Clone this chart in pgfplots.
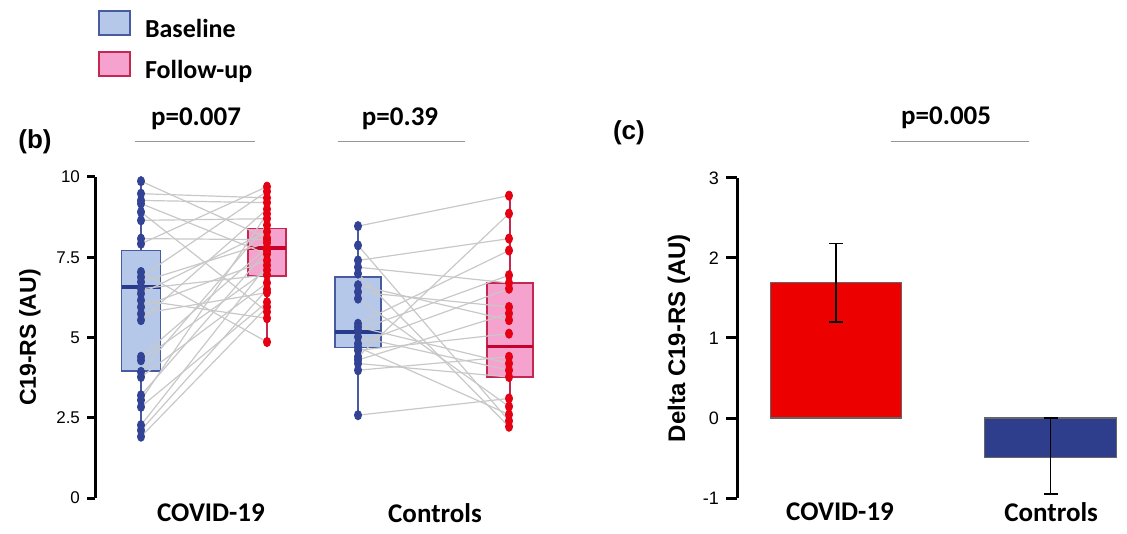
\documentclass[border=0pt]{standalone}
\usepackage{pgfplots}
\pgfplotsset{compat=1.18}
\usepackage{pgfplotstable}
\usepackage{fontspec}
\setmainfont{Carlito}
\newfontfamily\arial{Liberation Sans}

\definecolor{bfill}{RGB}{182,200,234}
\definecolor{bedge}{RGB}{72,90,160}
\definecolor{bmed}{RGB}{40,58,140}
\definecolor{bdot}{RGB}{50,66,148}
\definecolor{pfill}{RGB}{246,162,206}
\definecolor{pedge}{RGB}{196,40,80}
\definecolor{pmed}{RGB}{200,0,45}
\definecolor{pdot}{RGB}{230,0,20}
\definecolor{lgray}{RGB}{200,200,200}
\definecolor{sgray}{RGB}{150,150,150}
\definecolor{barred}{RGB}{237,0,0}
\definecolor{barblue}{RGB}{46,62,140}

\pgfplotstableread{
b f
9.87 8.10
9.48 9.35
9.27 9.20
9.17 7.60
8.91 5.80
8.65 8.70
8.08 8.05
7.92 9.70
7.04 4.86
6.88 9.55
6.73 7.95
6.52 6.95
6.37 8.30
6.16 5.60
5.95 7.40
5.74 6.40
5.54 9.00
4.40 7.80
4.29 7.10
3.93 8.50
3.77 6.70
3.20 7.70
3.05 8.85
2.84 6.10
2.27 7.25
2.11 6.50
1.91 5.95
}\covid

\pgfplotstableread{
b f
8.47 9.42
7.87 2.40
7.40 8.08
7.19 6.70
6.99 2.22
6.63 5.54
6.42 5.95
6.21 2.85
5.43 7.71
5.33 4.19
5.23 6.94
5.02 3.98
4.81 6.52
4.70 2.60
4.60 5.12
4.40 8.86
4.30 5.75
4.19 3.77
3.98 4.40
2.58 3.10
}\ctrl

\begin{document}
\begin{tikzpicture}
\useasboundingbox (0,0) rectangle (563.5pt,267pt);
% ---------------- panel (b)
\begin{axis}[
  at={(47.5pt,18pt)}, anchor=south west, scale only axis,
  width=232.5pt, height=160.5pt,
  xmin=95, xmax=560, ymin=0, ymax=10, clip=false,
  axis lines*=left,
  x axis line style={draw=none},
  y axis line style={line width=1.5pt, black},
  tick align=outside, major tick length=4pt,
  ytick={0,2.5,5,7.5,10}, yticklabels={0,2.5,5,7.5,10},
  y tick style={line width=1.5pt, black},
  yticklabel style={font=\arial\fontsize{8.5}{9}\selectfont},
  xtick={211,435}, xticklabels={COVID-19,Controls},
  x tick style={draw=none},
  xticklabel style={font=\bfseries\fontsize{13.5}{14}\selectfont, anchor=center, yshift=-3.5pt},
  ylabel={C19-RS (AU)},
  every axis y label/.style={at={(axis description cs:0,0.5)}, xshift=-32.5pt, rotate=90, anchor=center, font=\arial\bfseries\fontsize{11.5}{12}\selectfont},
  legend image code/.code={\draw[#1] (0pt,-2pt) rectangle (15.5pt,10pt);},
  legend style={at={(axis description cs:0.0065,1.52)}, anchor=north west, draw=none, fill=none, inner sep=0pt,
    font=\bfseries\fontsize{13}{14}\selectfont, row sep=4pt,
    nodes={inner sep=0pt, text height=9pt, text depth=3pt},
    /tikz/every odd column/.style={column sep=7pt}},
  legend cell align=left,
]
\addlegendimage{fill=bfill, draw=bedge, line width=0.8pt}
\addlegendentry{Baseline}
\addlegendimage{fill=pfill, draw=pedge, line width=0.8pt}
\addlegendentry{Follow-up}

% whiskers
\addplot[bedge, line width=1pt] coordinates {(141,1.91) (141,9.87)};
\addplot[pedge, line width=1pt] coordinates {(267,4.86) (267,9.70)};
\addplot[bedge, line width=1pt] coordinates {(358,2.58) (358,8.47)};
\addplot[pedge, line width=1pt] coordinates {(510,2.22) (510,9.42)};
% boxes (Q1 to Q3)
\addplot[draw=bedge, fill=bfill, line width=0.8pt] coordinates {(121.5,3.96) (160.5,3.96) (160.5,7.71) (121.5,7.71)} -- cycle;
\addplot[draw=pedge, fill=pfill, line width=0.8pt] coordinates {(248,6.92) (286,6.92) (286,8.39) (248,8.39)} -- cycle;
\addplot[draw=bedge, fill=bfill, line width=0.8pt] coordinates {(335,4.69) (381,4.69) (381,6.88) (335,6.88)} -- cycle;
\addplot[draw=pedge, fill=pfill, line width=0.8pt] coordinates {(487,3.77) (533,3.77) (533,6.70) (487,6.70)} -- cycle;
% medians
\addplot[bmed, line width=1.6pt] coordinates {(121.5,6.57) (160.5,6.57)};
\addplot[pmed, line width=1.6pt] coordinates {(248,7.79) (286,7.79)};
\addplot[bmed, line width=1.6pt] coordinates {(335,5.17) (381,5.17)};
\addplot[pmed, line width=1.6pt] coordinates {(487,4.73) (533,4.73)};

% paired lines
\addplot[lgray, line width=0.6pt, no markers, -, quiver={u=126, v=\thisrow{f}-\thisrow{b}}]
  table[x expr=141, y=b] {\covid};
\addplot[lgray, line width=0.6pt, no markers, -, quiver={u=151, v=\thisrow{f}-\thisrow{b}}]
  table[x expr=358, y=b] {\ctrl};

% dots
\addplot[only marks, mark=*, mark size=2.1pt, bdot, mark options={draw=bdot, fill=bdot, xscale=0.85, yscale=1.1}] table[x expr=141, y=b] {\covid};
\addplot[only marks, mark=*, mark size=2.1pt, pdot, mark options={draw=pdot, fill=pdot, xscale=0.85, yscale=1.1}] table[x expr=267, y=f] {\covid};
\addplot[only marks, mark=*, mark size=2.1pt, bdot, mark options={draw=bdot, fill=bdot, xscale=0.85, yscale=1.1}] table[x expr=358, y=b] {\ctrl};
\addplot[only marks, mark=*, mark size=2.1pt, pdot, mark options={draw=pdot, fill=pdot, xscale=0.85, yscale=1.1}] table[x expr=509, y=f] {\ctrl};

% annotations
\draw[sgray, line width=0.8pt] (axis cs:135,11.10) -- (axis cs:255,11.10);
\draw[sgray, line width=0.8pt] (axis cs:338,11.10) -- (axis cs:465,11.10);
\node[anchor=base, inner sep=0pt, font=\bfseries\fontsize{13.5}{14}\selectfont] at (axis cs:196,11.59) {p=0.007};
\node[anchor=base, inner sep=0pt, font=\bfseries\fontsize{13.5}{14}\selectfont] at (axis cs:400,11.59) {p=0.39};
\node[anchor=base, inner sep=0pt, font=\arial\bfseries\fontsize{13}{14}\selectfont] at (axis cs:35,10.90) {(b)};
\end{axis}

% ---------------- panel (c)
\begin{axis}[
  at={(368.5pt,18pt)}, anchor=south west, scale only axis,
  width=194pt, height=160pt,
  xmin=737, xmax=1125, ymin=-1, ymax=3, clip=false,
  axis lines*=left,
  x axis line style={draw=none},
  y axis line style={line width=1.5pt, black},
  tick align=outside, major tick length=5.5pt,
  ytick={-1,0,1,2,3}, yticklabels={-1,0,1,2,3},
  y tick style={line width=1.5pt, black},
  yticklabel style={font=\arial\fontsize{9}{10}\selectfont},
  xtick={838,1045}, xticklabels={COVID-19,Controls},
  x tick style={draw=none},
  xticklabel style={font=\bfseries\fontsize{13.5}{14}\selectfont, anchor=center, yshift=-1.5pt},
  ylabel={Delta C19-RS (AU)},
  every axis y label/.style={at={(axis description cs:0,0.5)}, xshift=-29pt, rotate=90, anchor=center, font=\arial\bfseries\fontsize{12}{13}\selectfont},
]
\addplot[ybar, bar width=128, bar shift=0pt, fill=barred, draw=black!60, line width=0.6pt,
  error bars/.cd, y dir=both, y explicit,
  error bar style={black, line width=0.7pt},
  error mark options={rotate=90, black, line width=0.7pt, mark size=3.5pt}]
  coordinates {(834,1.69) +- (0,0.49)};
\addplot[ybar, bar width=129, bar shift=0pt, fill=barblue, draw=black!60, line width=0.6pt,
  error bars/.cd, y dir=both, y explicit,
  error bar style={black, line width=0.7pt},
  error mark options={rotate=90, black, line width=0.7pt, mark size=3.5pt}]
  coordinates {(1044.5,-0.49) += (0,0.49) -= (0,0.46)};

\draw[sgray, line width=0.8pt] (axis cs:888,3.457) -- (axis cs:1023,3.457);
\node[anchor=base, inner sep=0pt, font=\bfseries\fontsize{13.5}{14}\selectfont] at (axis cs:942,3.666) {p=0.005};
\node[anchor=base, inner sep=0pt, font=\arial\bfseries\fontsize{13}{14}\selectfont] at (axis cs:631,3.48) {(c)};
\end{axis}
\end{tikzpicture}
\end{document}
